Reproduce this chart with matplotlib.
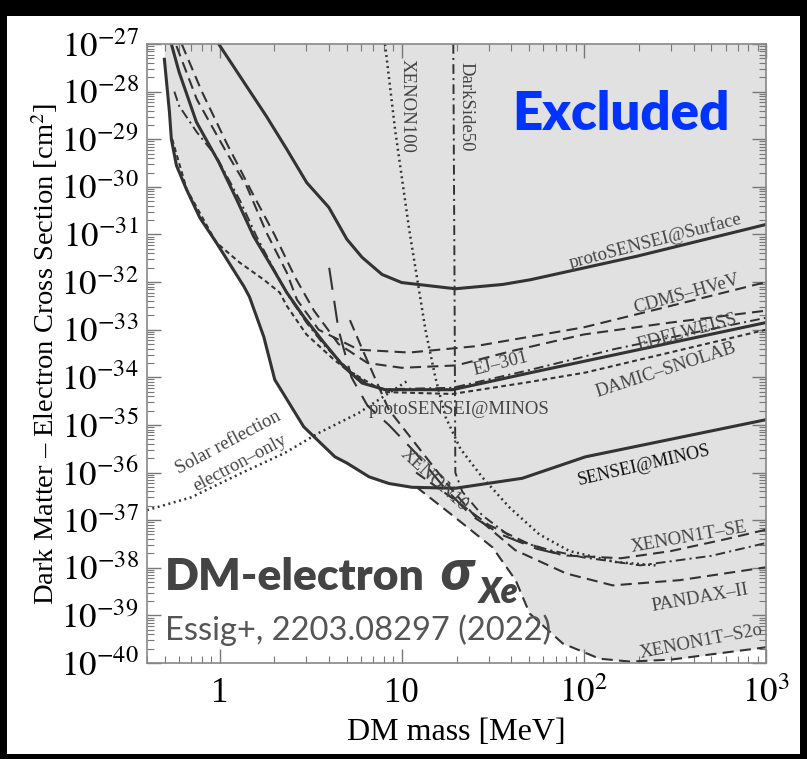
import numpy as np
import matplotlib
matplotlib.use("Agg")
import matplotlib.pyplot as plt
from matplotlib.patches import Rectangle
from matplotlib.ticker import LogLocator, NullFormatter

plt.rcParams['font.family'] = ['Liberation Serif', 'DejaVu Serif']
plt.rcParams['mathtext.fontset'] = 'stix'
plt.rcParams['lines.scale_dashes'] = False

# curves: mass [MeV], log10(cross section [cm^2])
sensei_minos_m = [0.498, 0.531, 0.544, 0.58, 0.658, 0.78, 0.96, 1.36, 1.46, 1.75, 2.01, 2.9, 4.3, 5.0, 6.62, 8.5, 11.4, 19.7, 46, 102, 1000]
sensei_minos_y = [-27.32, -28.43, -29.0, -29.55, -30.05, -30.65, -31.17, -32.09, -32.31, -33.15, -34.05, -35.04, -35.67, -35.8, -36.09, -36.23, -36.31, -36.33, -36.12, -35.67, -34.89]

proto_minos_m = [0.544, 0.60, 0.747, 0.99, 1.24, 1.54, 1.93, 2.34, 2.9, 3.74, 4.82, 6.06, 8.11, 19.0, 54.4, 1000]
proto_minos_y = [-27.0, -27.59, -28.64, -29.48, -30.26, -31.04, -31.67, -32.22, -32.73, -33.27, -33.78, -34.12, -34.26, -34.26, -33.88, -32.85]

proto_surf_m = [0.99, 1.36, 1.81, 2.34, 3.01, 3.98, 5.0, 6.06, 7.8, 10, 19.7, 35.8, 51, 194, 1000]
proto_surf_y = [-27.0, -27.8, -28.52, -29.21, -29.91, -30.43, -31.1, -31.48, -31.84, -32.01, -32.14, -32.05, -31.95, -31.46, -30.79]

cdms_m = [0.58, 0.75, 1.09, 1.41, 1.81, 2.34, 2.66, 3.5, 5.8, 11, 25, 50, 100, 300, 1000]
cdms_y = [-27.04, -28.16, -29.27, -29.99, -30.96, -31.8, -32.37, -33.0, -33.42, -33.48, -33.35, -33.15, -32.95, -32.5, -32.0]

ej301_m = [0.62, 0.8, 1.1, 1.5, 2.0, 2.6, 3.3, 4.5, 6.5, 10, 20, 40, 100, 300, 1000]
ej301_y = [-27.0, -28.0, -29.1, -30.1, -31.0, -31.9, -32.6, -33.3, -33.7, -33.8, -33.75, -33.45, -33.1, -32.85, -32.6]

edelweiss_m = [0.565, 0.6, 0.75, 0.96, 1.3, 1.6, 2.0, 2.4, 3.0, 3.8, 5, 6.5, 8, 19, 50, 150, 1000]
edelweiss_y = [-28.0, -28.3, -28.85, -29.36, -30.3, -31.05, -31.75, -32.3, -32.85, -33.35, -33.8, -34.15, -34.25, -34.22, -33.85, -33.4, -32.75]

damic_m = [0.55, 0.66, 0.96, 1.29, 1.75, 2.14, 2.34, 3.0, 4.25, 5.0, 8.1, 19, 50, 102, 1000]
damic_y = [-29.0, -30.05, -31.17, -31.59, -31.95, -32.22, -32.5, -33.1, -33.63, -33.84, -34.31, -34.35, -34.1, -33.9, -33.0]

xenon10_m = [4.0, 4.5, 5.3, 6.5, 8.5, 12, 17, 24, 35, 55, 80]
xenon10_y = [-31.7, -33.0, -34.0, -34.6, -35.0, -35.6, -36.3, -36.9, -37.3, -37.6, -37.75]

pandax_m = [5.2, 6.0, 8.5, 14, 18.3, 25, 42, 80, 144, 337, 1000]
pandax_y = [-32.8, -33.36, -34.68, -35.74, -36.3, -36.9, -37.63, -38.12, -38.37, -38.26, -37.99]

x1t_se_m = [12, 20, 30, 50, 76.6, 160, 300, 600, 1000]
x1t_se_y = [-36.0, -36.6, -37.1, -37.5, -37.74, -37.8, -37.65, -37.4, -37.2]

x1t_s2o_m = [12, 18.3, 31.5, 42.2, 50.4, 76.6, 122, 179, 300, 453, 1000]
x1t_s2o_y = [-36.3, -36.85, -37.57, -38.26, -38.96, -39.59, -39.91, -39.97, -39.93, -39.84, -39.67]

darkside_m = [19.2, 19.5, 19.7, 21.5, 27.7, 42, 65, 98.6, 204, 500, 1000]
darkside_y = [-27.0, -32.0, -36.0, -36.4, -36.9, -37.42, -37.63, -37.78, -37.95, -37.75, -37.48]

xenon100_m = [8.1, 9.2, 11.0, 13.5, 15.3, 17.4, 21, 27.7, 39, 57, 83.5, 150, 250]
xenon100_y = [-27.0, -28.8, -30.9, -33.0, -34.0, -34.83, -35.5, -36.1, -36.73, -37.3, -37.65, -37.88, -37.95]

solar_m = [0.4, 0.70, 1.32, 2.28, 3.5, 5.8, 11]
solar_y = [-36.79, -36.52, -36.01, -35.59, -35.17, -34.75, -34.05]

fig = plt.figure(figsize=(8.07, 7.59), dpi=100, facecolor='black')
fig.patches.append(Rectangle((0.0087, 0.0066), 0.9826, 0.9724, transform=fig.transFigure,
                             facecolor='white', edgecolor='none', zorder=-10))
ax = fig.add_axes([0.1822, 0.1265, 0.767, 0.8155])
ax.set_facecolor('white')

# excluded region: above the lowest bound
grid = np.logspace(np.log10(0.498), 3, 800)
lg = np.log10(grid)
env1 = np.interp(lg, np.log10(sensei_minos_m), sensei_minos_y)
env2 = np.interp(lg, np.log10(x1t_s2o_m), x1t_s2o_y, left=0)
env = np.minimum(env1, env2)
ax.fill_between(grid, 10.0 ** env, 1e-26, color='#e1e1e1', lw=0, zorder=0)

c = '#333333'
def curve(m, y, **kw):
    ax.plot(m, 10.0 ** np.array(y), color=c, **kw)

curve(sensei_minos_m, sensei_minos_y, lw=2.2)
curve(proto_minos_m, proto_minos_y, lw=2.2)
curve(proto_surf_m, proto_surf_y, lw=2.2)
curve(cdms_m, cdms_y, lw=1.5, dashes=(8, 4.5))
curve(ej301_m, ej301_y, lw=1.5, dashes=(8, 4.5))
curve(edelweiss_m, edelweiss_y, lw=1.4, dashes=(7, 3, 1.5, 3))
curve(damic_m, damic_y, lw=1.5, dashes=(3.5, 2.5))
curve(xenon10_m, xenon10_y, lw=1.5, dashes=(16, 8))
curve(pandax_m, pandax_y, lw=1.5, dashes=(8, 4.5))
curve(x1t_se_m, x1t_se_y, lw=1.5, dashes=(8, 4.5))
curve(x1t_s2o_m, x1t_s2o_y, lw=1.5, dashes=(8, 4.5))
curve(darkside_m, darkside_y, lw=1.4, dashes=(7, 3, 1.5, 3))
curve(xenon100_m, xenon100_y, lw=1.8, dashes=(1.4, 2.6))
curve(solar_m, solar_y, lw=1.8, dashes=(1.4, 2.6))

ax.set_xscale('log')
ax.set_yscale('log')
ax.set_xlim(0.4, 1000)
ax.set_ylim(1e-40, 1e-27)

ax.xaxis.set_major_locator(LogLocator(base=10, numticks=20))
ax.xaxis.set_minor_locator(LogLocator(base=10, subs=np.arange(2, 10), numticks=100))
ax.yaxis.set_major_locator(LogLocator(base=10, numticks=30))
ax.yaxis.set_minor_locator(LogLocator(base=10, subs=np.arange(2, 10), numticks=200))
ax.xaxis.set_minor_formatter(NullFormatter())
ax.yaxis.set_minor_formatter(NullFormatter())
ax.set_xticks([1, 10, 100, 1000])
ax.set_xticklabels(['1', '10', r'$10^2$', r'$10^3$'])
ax.set_yticks([10.0 ** e for e in range(-40, -26)])
ax.set_yticklabels([r'$10^{%d}$' % e for e in range(-40, -26)])

ax.tick_params(which='both', direction='in', top=True, right=True, color='#777777')
ax.tick_params(which='major', length=10, width=1, labelsize=25, pad=6)
ax.tick_params(which='minor', length=5, width=0.8)
ax.tick_params(axis='x', which='major', pad=10)
for s in ax.spines.values():
    s.set_color('#888888')
    s.set_linewidth(1.2)

ax.set_xlabel('DM mass [MeV]', fontsize=23, labelpad=6)
ax.set_ylabel(r'Dark Matter – Electron Cross Section [cm$^2$]', fontsize=20.5, labelpad=1)

lab = dict(color='#444444', fontsize=13.5, ha='center', va='center', rotation_mode='anchor')
ax.text(10.7, 10 ** -28.31, 'XENON100', rotation=270, **lab)
ax.text(22.4, 10 ** -28.31, 'DarkSide50', rotation=270, **lab)
ax.text(246, 10 ** -31.13, 'protoSENSEI@Surface', rotation=14.6, **lab)
ax.text(365, 10 ** -32.26, 'CDMS–HVeV', rotation=15.5, **lab)
ax.text(369, 10 ** -33.06, 'EDELWEISS', rotation=15, **lab)
ax.text(34.9, 10 ** -33.72, 'EJ–301', rotation=14, **lab)
ax.text(283, 10 ** -33.84, 'DAMIC–SNOLAB', rotation=18, **lab)
ax.text(20.7, 10 ** -34.68, 'protoSENSEI@MINOS', rotation=0, **lab)
ax.text(214, 10 ** -35.86, 'SENSEI@MINOS', rotation=13, **dict(lab, color='#111111', fontsize=13))
ax.text(15.1, 10 ** -36.16, 'XENON10', rotation=-42, **lab)
ax.text(379, 10 ** -37.36, 'XENON1T–SE', rotation=10, **lab)
ax.text(436, 10 ** -38.64, 'PANDAX–II', rotation=10, **lab)
ax.text(441, 10 ** -39.55, 'XENON1T–S2o', rotation=11, **lab)
ax.text(1.12, 10 ** -35.38, 'Solar reflection', rotation=28, **lab)
ax.text(1.29, 10 ** -35.8, 'electron–only', rotation=28, **lab)

sans = ['Lato', 'DejaVu Sans']
fig.text(0.7695, 0.8485, 'Excluded', color='#0033ff', fontsize=38, fontweight='heavy',
         family=sans, ha='center', va='center')
fig.text(0.2045, 0.2227, 'DM-electron', color='#444444', fontsize=32, fontweight='heavy',
         family=sans, ha='left', va='baseline')
fig.text(0.545, 0.2227, 'σ', color='#444444', fontsize=40, fontweight='heavy', style='italic',
         family=sans, ha='left', va='baseline')
fig.text(0.593, 0.205, 'Xe', color='#444444', fontsize=25, fontweight='heavy', style='italic',
         family=sans, ha='left', va='baseline')
fig.text(0.2045, 0.157, 'Essig+, 2203.08297 (2022)', color='#555555', fontsize=23.5,
         family=sans, ha='left', va='baseline')

fig.savefig('out.png', dpi=100, facecolor='black')
